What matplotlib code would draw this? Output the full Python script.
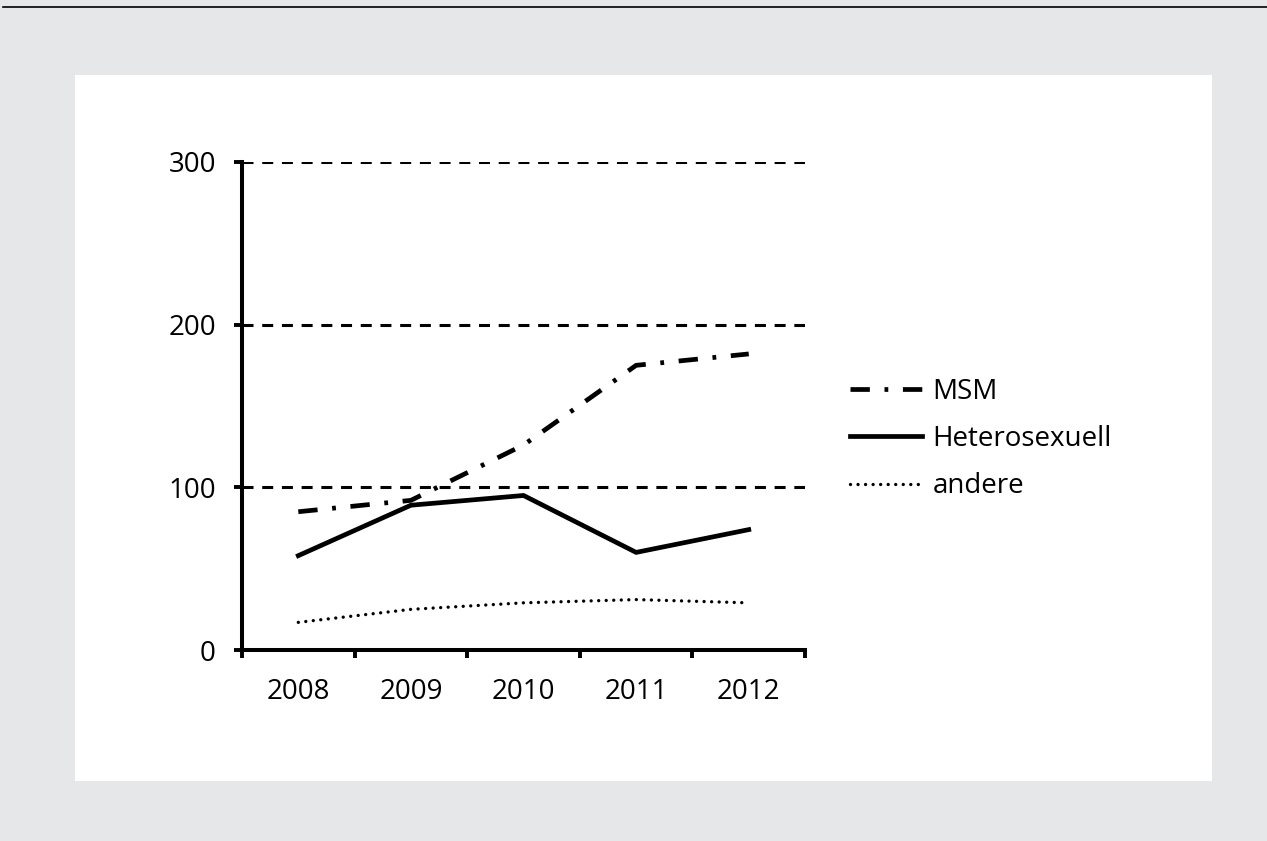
import matplotlib
matplotlib.use("Agg")
import matplotlib.pyplot as plt
from matplotlib.patches import Rectangle
from matplotlib.lines import Line2D

years = ["2008", "2009", "2010", "2011", "2012"]
msm = [85, 92, 126, 175, 182]
hetero = [58, 89, 95, 60, 74]
andere = [17, 25, 29, 31, 29]
yticks = [0, 100, 200, 300]

plt.rcParams['font.family'] = ['Open Sans', 'DejaVu Sans']

fig = plt.figure(figsize=(12.67, 8.41), dpi=100)
fig.patch.set_facecolor('#e6e7e8')
fig.add_artist(Rectangle((0.0592, 0.0713), 0.8974, 0.8395, transform=fig.transFigure,
                         facecolor='white', edgecolor='none', zorder=0))
fig.add_artist(Line2D([0.002, 1.0], [0.9915, 0.9915], transform=fig.transFigure,
                      color='black', lw=1.2))

ax = fig.add_axes([0.191, 0.2271, 0.4444, 0.5803])
ax.set_facecolor('none')
x = list(range(len(years)))
l1, = ax.plot(x, msm, color='black', lw=3.4, dashes=(4.1, 3.1, 0.8, 3.1),
              dash_capstyle='butt', solid_joinstyle='round', label='MSM', zorder=3)
l2, = ax.plot(x, hetero, color='black', lw=3.4, solid_joinstyle='miter',
              label='Heterosexuell', zorder=3)
l3, = ax.plot(x, andere, color='black', lw=2.4, dashes=(0.01, 2.25), dash_capstyle='round',
              label='andere', zorder=3)

ax.set_xlim(-0.5, 4.5)
ax.set_ylim(0, 300)
ax.set_yticks(yticks)
ax.set_yticklabels([str(v) for v in yticks])
for v in yticks[1:]:
    ax.axhline(v, color='black', lw=2.2, dashes=(3.6, 2.85), dash_capstyle='butt', zorder=1)

ax.set_xticks([i - 0.5 for i in range(len(years) + 1)], minor=False)
ax.set_xticklabels([])
ax.set_xticks(x, minor=True)
ax.set_xticklabels(years, minor=True)
ax.tick_params(axis='x', which='major', length=6, width=2.8, direction='out')
ax.tick_params(axis='x', which='minor', length=0, labelsize=20, pad=20.5)
ax.tick_params(axis='y', length=5.8, width=2.8, direction='out', labelsize=20, pad=13)

for s in ['top', 'right']:
    ax.spines[s].set_visible(False)
for s in ['left', 'bottom']:
    ax.spines[s].set_linewidth(2.9)
ax.spines['left'].set_zorder(4)
ax.spines['bottom'].set_zorder(4)

fig.legend(handles=[l1, l2, l3], loc='center left', bbox_to_anchor=(0.671, 0.478),
           frameon=False, fontsize=20, handlelength=2.6, handletextpad=0.36,
           labelspacing=0.7, borderaxespad=0, borderpad=0)

fig.savefig('out.png', dpi=100, facecolor=fig.get_facecolor())
